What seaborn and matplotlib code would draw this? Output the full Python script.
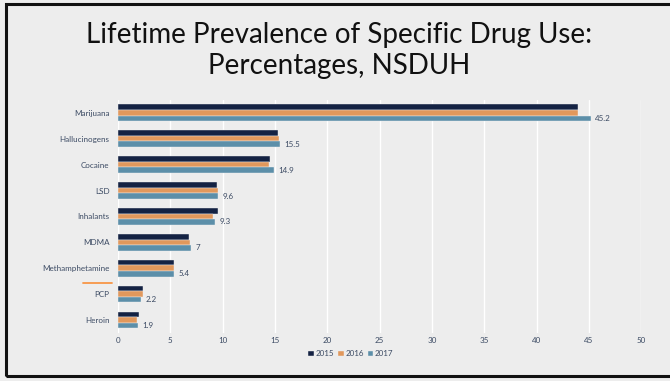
import pandas as pd
import matplotlib.pyplot as plt
import seaborn as sns
from matplotlib.patches import Rectangle

# data
drugs = ['Marijuana', 'Hallucinogens', 'Cocaine', 'LSD', 'Inhalants',
         'MDMA', 'Methamphetamine', 'PCP', 'Heroin']
y2015 = [44.0, 15.3, 14.5, 9.5, 9.6, 6.8, 5.4, 2.4, 2.0]
y2016 = [44.0, 15.4, 14.4, 9.6, 9.1, 6.9, 5.4, 2.4, 1.8]
y2017 = [45.2, 15.5, 14.9, 9.6, 9.3, 7.0, 5.4, 2.2, 1.9]
years = ['2015', '2016', '2017']
colors = ['#0C1F4B', '#F79646', '#4F93B6']

# long form table for seaborn
rows = []
for yr, vals in zip(years, [y2015, y2016, y2017]):
    for d, v in zip(drugs, vals):
        rows.append({'drug': d, 'year': yr, 'pct': v})
df = pd.DataFrame(rows)

sns.set_style('white')
plt.rcParams['font.family'] = ['Lato', 'DejaVu Sans']

bg = '#EDEDED'
txt = '#3B4A63'
fig = plt.figure(figsize=(6.7, 3.81), dpi=100, facecolor=bg)
ax = fig.add_axes([0.176, 0.126, 0.781, 0.612])
ax.set_facecolor(bg)

sns.barplot(data=df, y='drug', x='pct', hue='year', hue_order=years,
            palette=colors, orient='h', width=0.64, ax=ax,
            edgecolor=bg, linewidth=0.3, errorbar=None)

# label only the 2017 bars
ax.bar_label(ax.containers[2], fmt='{:g}', padding=3, fontsize=5.8, color=txt)

ax.set_xlim(0, 50)
ax.set_xticks(range(0, 51, 5))
ax.set_ylim(8.5, -0.5)
ax.grid(axis='x', color='white', linewidth=1.0)
ax.set_axisbelow(True)
for s in ax.spines.values():
    s.set_visible(False)
ax.tick_params(length=0, labelsize=5.8, labelcolor=txt)
ax.tick_params(axis='x', pad=3)
ax.tick_params(axis='y', pad=6)
ax.set_xlabel('')
ax.set_ylabel('')

ax.legend(loc='center', bbox_to_anchor=(0.445, -0.09), ncol=3,
          frameon=False, fontsize=5.8, labelcolor=txt, handlelength=0.7,
          handleheight=0.7, handletextpad=0.2, columnspacing=0.5)

# orange pointer next to PCP
fig.add_artist(plt.Line2D([83 / 670, 112 / 670], [1 - 283 / 381, 1 - 283 / 381],
                          color='#F79646', linewidth=1.3))

fig.text(0.506, 0.908, 'Lifetime Prevalence of Specific Drug Use:', ha='center',
         va='center', fontsize=20, color='#111111')
fig.text(0.506, 0.828, 'Percentages, NSDUH', ha='center', va='center',
         fontsize=20, color='#111111')

# slide frame
fig.add_artist(Rectangle((5.5 / 670, 5 / 381), 1.0, 372 / 381, fill=False,
                         edgecolor='#111111', linewidth=2.2,
                         transform=fig.transFigure))

fig.savefig('out.png', dpi=100, facecolor=bg)
